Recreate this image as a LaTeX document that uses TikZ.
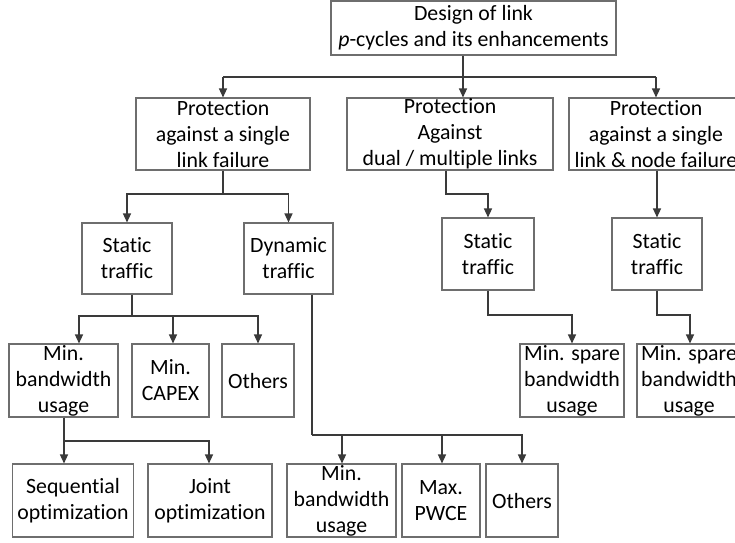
\documentclass[tikz,border=0pt]{standalone}
\usepackage{fontspec}
\setmainfont[RawFeature={-liga;-clig;-calt;-dlig}]{Carlito}
\usetikzlibrary{arrows.meta}
\definecolor{boxline}{HTML}{6E6E6E}
\definecolor{arrline}{HTML}{3A3A3A}
\begin{document}
\begin{tikzpicture}[x=1pt,y=-1pt,
  box/.style={draw=boxline, line width=1.1pt, align=center, inner sep=0pt,
    font=\fontsize{21.8pt}{26pt}\selectfont},
  arr/.style={draw=arrline, line width=1.3pt, -{Triangle[length=9pt,width=8pt]}},
  ln/.style={draw=arrline, line width=1.3pt}]
\useasboundingbox (0,0) rectangle (735,542);
\clip (0,0) rectangle (735,542);
\fill[white] (0,0) rectangle (735,542);
% nodes
\node[box, minimum width=285pt, minimum height=54pt] (root) at (473.5,28) {Design of link\\\textit{p}-cycles and its enhancements};
\node[box, minimum width=174pt, minimum height=72pt] (p1) at (223,134) {Protection\\against a single\\link failure};
\node[box, minimum width=206pt, minimum height=72pt] (p2) at (450,134) {Protection\\Against\\dual / multiple links};
\node[box, minimum width=174pt, minimum height=72pt] (p3) at (656,134) {Protection\\against a single\\link \& node failure};
\node[box, minimum width=90pt, minimum height=71pt] (s1) at (127,258.5) {Static\\traffic};
\node[box, minimum width=89pt, minimum height=71pt] (d1) at (288.5,258.5) {Dynamic\\traffic};
\node[box, minimum width=92pt, minimum height=72pt] (s2) at (488,254) {Static\\traffic};
\node[box, minimum width=90pt, minimum height=72pt] (s3) at (657,254) {Static\\traffic};
\node[box, minimum width=109pt, minimum height=73pt] (mb1) at (63.5,380.5) {Min.\\bandwidth\\usage};
\node[box, minimum width=77pt, minimum height=73pt] (capex) at (170.5,380.5) {Min.\\CAPEX};
\node[box, minimum width=72pt, minimum height=73pt] (oth1) at (258,380.5) {Others};
\node[box, minimum width=104pt, minimum height=73pt] (sp1) at (572,380.5) {Min. spare\\bandwidth\\usage};
\node[box, minimum width=104pt, minimum height=73pt] (sp2) at (689,380.5) {Min. spare\\bandwidth\\usage};
\node[box, minimum width=121pt, minimum height=73pt] (seq) at (73,500.5) {Sequential\\optimization};
\node[box, minimum width=124pt, minimum height=73pt] (joint) at (210,500.5) {Joint\\optimization};
\node[box, minimum width=109pt, minimum height=73pt] (mb2) at (341.5,500.5) {Min.\\bandwidth\\usage};
\node[box, minimum width=78pt, minimum height=73pt] (pwce) at (441,500.5) {Max.\\PWCE};
\node[box, minimum width=72pt, minimum height=73pt] (oth2) at (522,500.5) {Others};
% root connectors
\coordinate (rj) at (463,77);
\draw[arr] (root.south -| rj) -- (p2.north -| rj);
\draw[ln] (p1.north |- rj) -- (p3.north |- rj);
\draw[arr] (p1.north |- rj) -- (p1.north);
\draw[arr] (p3.north |- rj) -- (p3.north);
% p1 -> s1, d1
\coordinate (p1j) at (223,194);
\draw[ln] (p1.south) -- (p1j);
\draw[arr] (p1j) -| (s1.north);
\draw[arr] (p1j) -| (d1.north);
% s1 -> mb1, capex, oth1
\coordinate (s1j) at (132,316);
\draw[ln] (s1.south -| s1j) -- (s1j);
\draw[arr] (s1j) -| (mb1.north -| 79,0);
\draw[arr] (s1j) -| (capex.north -| 173,0);
\draw[arr] (s1j) -| (oth1.north);
% mb1 -> seq, joint
\coordinate (m1j) at (64,441);
\draw[arr] (mb1.south -| m1j) -- (seq.north -| m1j);
\draw[arr] (m1j) -| (joint.north -| 209,0);
% d1 -> mb2, pwce, oth2
\coordinate (d1j) at (312,435);
\draw[ln] (d1.south -| d1j) -- (d1j);
\draw[arr] (d1j) -| (mb2.north -| 342,0);
\draw[arr] (d1j) -| (pwce.north -| 442,0);
\draw[arr] (d1j) -| (oth2.north);
% p2 -> s2
\draw[arr] (p2.south -| 446,0) |- (488,194) -- (s2.north);
% p3 -> s3
\draw[arr] (p3.south -| s3.north) -- (s3.north);
% s2 -> sp1
\draw[arr] (s2.south) |- (572,315) -- (sp1.north);
% s3 -> sp2
\draw[arr] (s3.south) |- (690,315) -- (sp2.north -| 690,0);
\end{tikzpicture}
\end{document}
